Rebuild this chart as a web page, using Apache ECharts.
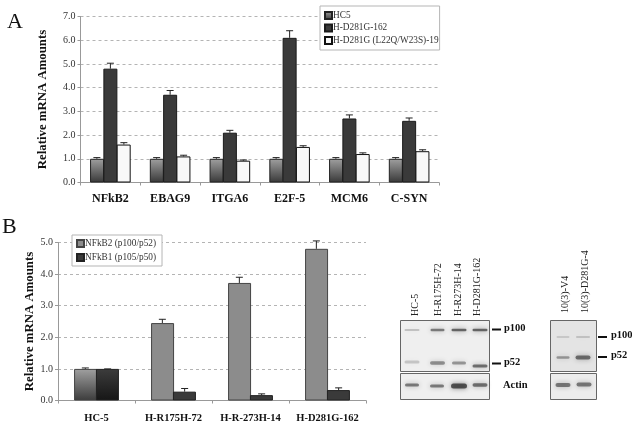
<!DOCTYPE html>
<html><head><meta charset="utf-8">
<style>html,body{margin:0;padding:0;background:#fff}#c{width:632px;height:421px}</style>
<script src="https://cdn.jsdelivr.net/npm/echarts@6/dist/echarts.min.js"></script></head>
<body><div id="c"></div>
<script>
var genes = ['NFkB2','EBAG9','ITGA6','E2F-5','MCM6','C-SYN'];
var hc5 = [1,1,1,1,1,1];
var hc5Top = [1.05,1.05,1.05,1.05,1.05,1.05];
var d162 = [4.8,3.7,2.1,6.1,2.7,2.6];
var d162Top = [5.03,3.88,2.2,6.4,2.85,2.72];
var d19 = [1.6,1.1,0.92,1.5,1.2,1.32];
var d19Top = [1.68,1.15,0.95,1.55,1.25,1.38];
var yTicksLabel = 'Relative mRNA Amounts';
var lines = ['HC-5','H-R175H-72','H-R-273H-14','H-D281G-162'];
var nfkb2 = [1,2.45,3.72,4.8];
var nfkb2Top = [1.03,2.57,3.9,5.05];
var nfkb1 = [1,0.28,0.17,0.33];
var nfkb1Top = [1,0.38,0.21,0.4];

var F = '"Liberation Serif","Times New Roman",serif';
function grad(a,b){return {type:'linear',x:0,y:0,x2:0,y2:1,colorStops:[{offset:0,color:a},{offset:1,color:b}]};}
var series = [];
function bar(name,vals,ax,color,w,first,bw){
  series.push({type:'bar',name:name,xAxisIndex:ax,yAxisIndex:ax,data:vals.map(function(v,i){
    return (first&&i===0)?{value:v,itemStyle:{color:first}}:v;}),
    barWidth:w,barGap:'-5%',itemStyle:{color:color,borderColor:bw,borderWidth:1},silent:true});
}
function err(tops,ax,slot,n,w){
  series.push({type:'custom',xAxisIndex:ax,yAxisIndex:ax,silent:true,z:1,
    data:tops.map(function(t,i){return [i,t,(ax===0?[hc5,d162,d19][slot]:[nfkb2,nfkb1][slot])[i]];}),
    encode:{x:0,y:1},
    renderItem:function(p,api){
      var c=api.coord([api.value(0),api.value(1)]);
      var b=api.coord([api.value(0),api.value(2)]);
      var x=c[0]+(slot-(n-1)/2)*w;
      var st={stroke:'#222',lineWidth:1,fill:null};
      return {type:'group',children:[
        {type:'line',shape:{x1:x,y1:c[1],x2:x,y2:b[1]},style:st},
        {type:'line',shape:{x1:x-3.5,y1:c[1],x2:x+3.5,y2:c[1]},style:st}]};
    }});
}
bar('HC5',hc5,0,grad('#a0a0a0','#383838'),14,null,'#222');
bar('H-D281G-162',d162,0,'#3a3a3a',14,null,'#1a1a1a');
bar('H-D281G (L22Q/W23S)-19',d19,0,'#f8f8f8',14,null,'#111');
err(hc5Top,0,0,3,13.5);err(d162Top,0,1,3,13.5);err(d19Top,0,2,3,13.5);
bar('NFkB2 (p100/p52)',nfkb2,1,'#8c8c8c',23,grad('#a0a0a0','#3c3c3c'),'#444');
bar('NFkB1 (p105/p50)',nfkb1,1,'#3a3a3a',23,grad('#3c3c3c','#161616'),'#222');
err(nfkb2Top,1,0,2,22.3);err(nfkb1Top,1,1,2,22.3);

function xAx(i,d,sz,m){return {type:'category',gridIndex:i,data:d,
  axisLine:{lineStyle:{color:'#999'}},axisTick:{show:true,length:3,lineStyle:{color:'#999'}},
  axisLabel:{fontFamily:F,fontWeight:'bold',fontSize:sz,color:'#111',margin:m,interval:0}};}
function yAx(i,max,gap){return {type:'value',gridIndex:i,min:0,max:max,interval:1,name:yTicksLabel,nameLocation:'middle',nameRotate:90,nameGap:gap,
  nameTextStyle:{fontFamily:F,fontWeight:'bold',fontSize:12.8,color:'#111'},
  axisLine:{show:true,lineStyle:{color:'#999'}},axisTick:{show:true,length:3,lineStyle:{color:'#999'}},
  axisLabel:{fontFamily:F,fontSize:10,color:'#333',margin:5,formatter:function(v){return v.toFixed(1);}},
  splitLine:{show:true,lineStyle:{type:[3,3],color:'#b4b4b4',width:1}}};}
function leg(names,l,t,gap,pr,pv){return {data:names,orient:'vertical',left:l,top:t,icon:'rect',itemWidth:7,itemHeight:7,itemGap:gap,padding:[pv,pr,pv,4],
  borderColor:'#b5b5b5',borderWidth:1,backgroundColor:'#fff',align:'left',selectedMode:false,
  textStyle:{fontFamily:F,fontSize:9.3,color:'#333',padding:[0,0,0,-4]},z:10};}

/* western blot decoration */
var g = [];
function txt(s,x,y,o){g.push({type:'text',x:x,y:y,rotation:o&&o.rot||0,style:{text:s,fontFamily:F,fontSize:o&&o.size||10,fontWeight:o&&o.bold?'bold':'normal',fill:o&&o.fill||'#222',textVerticalAlign:'middle',textAlign:o&&o.align||'left'}});}
function panel(x,y,w,h,f){g.push({type:'rect',shape:{x:x,y:y,width:w,height:h},style:{fill:f,stroke:'#666',lineWidth:1}});}
function band(cx,cy,w,h,a){g.push({type:'rect',shape:{x:cx-w/2,y:cy-h/2,width:w,height:h,r:h/2},style:{fill:'rgba(40,40,40,'+a+')',shadowBlur:5,shadowColor:'rgba(40,40,40,'+a+')'}});}
panel(400.5,320.5,89,51,'#efefef');panel(400.5,373.5,89,26,'#efefef');
panel(550.5,320.5,46,51,'#e4e4e4');panel(550.5,373.5,46,26,'#ececec');
[[412,330,15,2,.22],[437.5,330,14,2.5,.55],[459,330,15,2.5,.65],[480,330,15,2.5,.65],
 [412,362,15,3,.2],[437.5,363,15,3.5,.45],[459,363,14,3,.42],[480,366,15,3,.6],
 [412,385,14,3,.55],[437,386,14,3,.55],[459,386,16,5,.75],[480,385,15,3.5,.6],
 [563,337,13,2,.15],[583,337,14,2,.18],[563,357.5,13,2.5,.4],[583,357.5,15,4,.6],
 [563,385,15,4,.55],[584,384.5,15,4,.55]].forEach(function(b){band.apply(null,b);});
[['HC-5',415,316],['H-R175H-72',438.5,316],['H-R273H-14',458.5,316],['H-D281G-162',477.5,316],['10(3)-V4',565,313],['10(3)-D281G-4',585,313]].forEach(function(t){txt(t[0],t[1],t[2],{rot:Math.PI/2});});
[[492,329.5],[492,363.5],[598,337],[598,357]].forEach(function(l){g.push({type:'rect',shape:{x:l[0],y:l[1]-1,width:9,height:2},style:{fill:'#111'}});});
txt('p100',504,328,{bold:1,size:10.5,fill:'#111'});txt('p52',504,362,{bold:1,size:10.5,fill:'#111'});
txt('Actin',503,385,{bold:1,size:10.5,fill:'#111'});
txt('p100',611,335,{bold:1,size:10.5,fill:'#111'});txt('p52',611,355,{bold:1,size:10.5,fill:'#111'});
txt('A',7,22,{size:22,fill:'#111'});txt('B',2,227,{size:22,fill:'#111'});

var chart = echarts.init(document.getElementById('c'),null,{renderer:'canvas'});
chart.setOption({animation:false,backgroundColor:'#fff',
  grid:[{left:80.5,top:16.5,width:358.5,height:166,outerBoundsMode:'none'},{left:58,top:242.5,width:308,height:158,outerBoundsMode:'none'}],
  xAxis:[xAx(0,genes,12,10),xAx(1,lines,10.5,12)],
  yAxis:[yAx(0,7,31),yAx(1,5,19)],
  legend:[leg(['HC5','H-D281G-162','H-D281G (L22Q/W23S)-19'],320,6,3.5,1,5),leg(['NFkB2 (p100/p52)','NFkB1 (p105/p50)'],72,235,5,6,4)],
  series:series,graphic:g});
</script></body></html>
